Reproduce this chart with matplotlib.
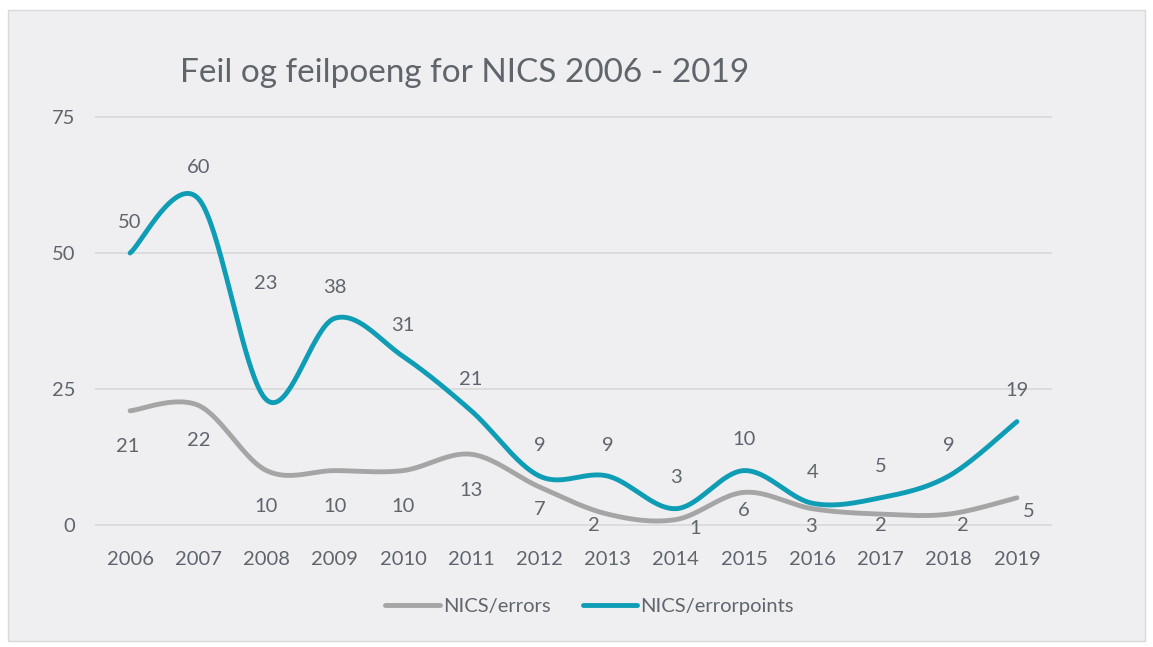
import matplotlib
matplotlib.use("Agg")
import matplotlib.pyplot as plt
from matplotlib.patches import Rectangle
import numpy as np

years = ["2006", "2007", "2008", "2009", "2010", "2011", "2012",
         "2013", "2014", "2015", "2016", "2017", "2018", "2019"]
errors = [21, 22, 10, 10, 10, 13, 7, 2, 1, 6, 3, 2, 2, 5]
errorpoints = [50, 60, 23, 38, 31, 21, 9, 9, 3, 10, 4, 5, 9, 19]
yticks = [0, 25, 50, 75]
title = "Feil og feilpoeng for NICS 2006 - 2019"

# label placement offsets in pixels (dx, dy) relative to each point
err_label_off = [(-2, -36), (0, -35), (0, -36), (0, -36), (0, -36), (0, -36), (0, -23),
                 (-14, -11), (19, -9), (0, -18), (-1, -18), (0, -11), (14, -11), (12, -14)]
pts_label_off = [(0, 31)] * 14
pts_label_off[2] = (-1, 116)

FONT = ["Lato", "DejaVu Sans"]
plt.rcParams["font.family"] = FONT
TXT = "#5F656B"
BG = "#EFEFF2"
GRAY = "#A5A5A5"
TEAL = "#0E9DB5"


def smooth(xs, ys, n=40):
    xs = np.asarray(xs, float)
    ys = np.asarray(ys, float)
    P = np.column_stack([xs, ys])
    out = []
    m = len(P)
    for i in range(m - 1):
        p0 = P[i - 1] if i > 0 else P[i]
        p1 = P[i]
        p2 = P[i + 1]
        p3 = P[i + 2] if i + 2 < m else P[i + 1]
        c1 = p1 + (p2 - p0) / 6.0
        c2 = p2 - (p3 - p1) / 6.0
        t = np.linspace(0, 1, n)[:, None]
        seg = ((1 - t) ** 3) * p1 + 3 * ((1 - t) ** 2) * t * c1 + 3 * (1 - t) * t ** 2 * c2 + t ** 3 * p2
        if i > 0:
            seg = seg[1:]
        out.append(seg)
    a = np.vstack(out)
    return a[:, 0], a[:, 1]


W, H = 1153, 647
fig = plt.figure(figsize=(W / 100, H / 100), dpi=100)
fig.patch.set_facecolor("white")
fig.patches.append(Rectangle((8 / W, 1 - 641 / H), (1145 - 8) / W, (641 - 10) / H,
                             transform=fig.transFigure, facecolor=BG,
                             edgecolor="#D9D9D9", linewidth=1.0, zorder=-5))

left, right = 96 / W, 1051 / W
bottom, top = 1 - 525 / H, 1 - 117 / H
ax = fig.add_axes([left, bottom, right - left, top - bottom])
ax.set_facecolor("none")
ax.set_zorder(2)
x = np.arange(len(years))
ax.set_xlim(-0.5, len(years) - 0.5)
ax.set_ylim(0, 75)
for s in ax.spines.values():
    s.set_visible(False)
ax.set_yticks(yticks)
ax.set_yticklabels([str(v) for v in yticks])
ax.set_xticks(x)
ax.set_xticklabels(years)
ax.tick_params(axis="both", length=0, labelsize=14.5, colors=TXT)
ax.tick_params(axis="y", pad=15)
ax.tick_params(axis="x", pad=19)
for v in yticks:
    ax.axhline(v, color="#DADADD", linewidth=1.3, zorder=1, clip_on=False)

sx, sy = smooth(x, errors)
ax.plot(sx, sy, color=GRAY, linewidth=3.5, solid_capstyle="round", zorder=3,
        clip_on=False, label="NICS/errors")
sx, sy = smooth(x, errorpoints)
ax.plot(sx, sy, color=TEAL, linewidth=3.5, solid_capstyle="round", zorder=4,
        clip_on=False, label="NICS/errorpoints")

for xi, v, off in zip(x, errors, err_label_off):
    ax.annotate(str(v), (xi, v), xytext=off, textcoords="offset pixels",
                ha="center", va="center", fontsize=14.5, color=TXT, zorder=5,
                annotation_clip=False)
for xi, v, off in zip(x, errorpoints, pts_label_off):
    ax.annotate(str(v), (xi, v), xytext=off, textcoords="offset pixels",
                ha="center", va="center", fontsize=14.5, color=TXT, zorder=5,
                annotation_clip=False)

fig.text(180 / W, 1 - 73 / H, title, ha="left", va="center", fontsize=24, color=TXT)

leg = ax.legend(loc="center", bbox_to_anchor=(589.5 / W, 1 - 606 / H),
                bbox_transform=fig.transFigure, ncol=2, frameon=False,
                fontsize=14.5, labelcolor=TXT, handlelength=2.7, handletextpad=0.15,
                columnspacing=1.6)

fig.savefig("out.png", dpi=100, facecolor="white")
